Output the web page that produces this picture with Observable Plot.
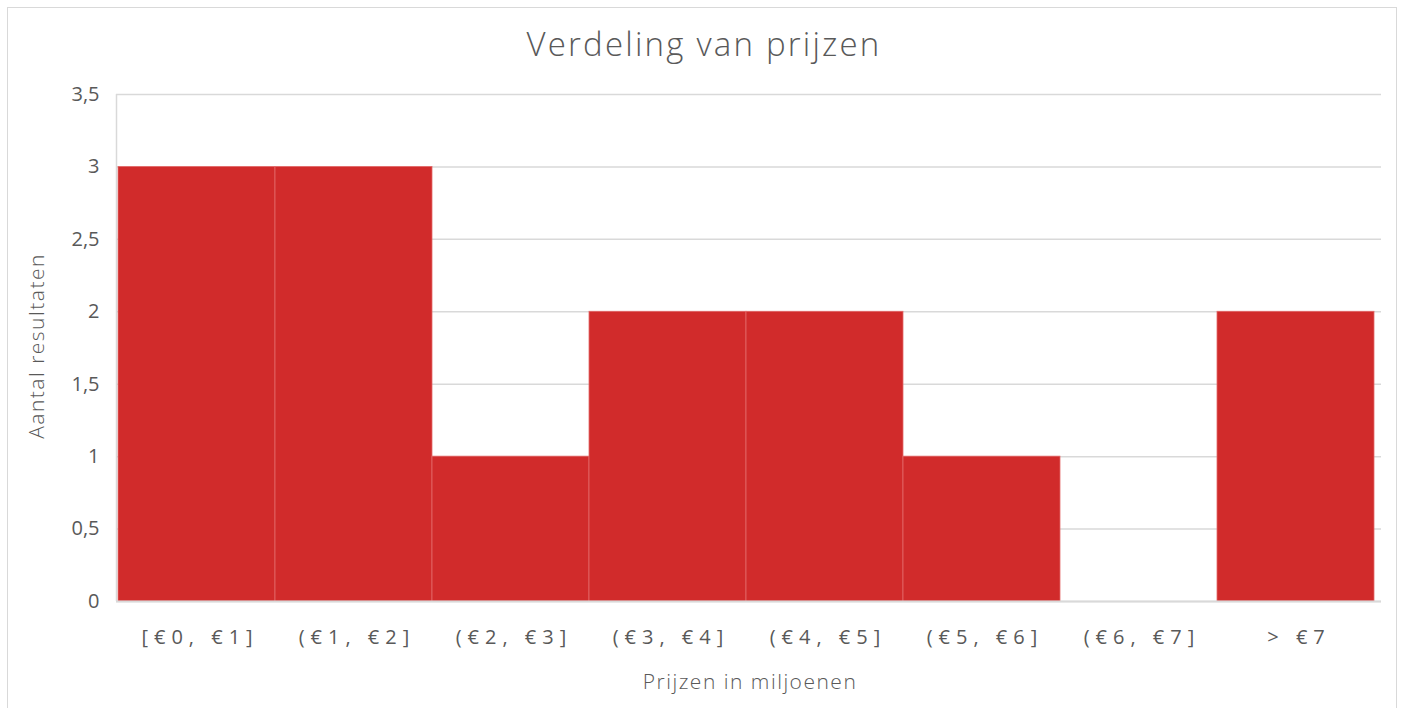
<!DOCTYPE html>
<html>
<head>
<meta charset="utf-8">
<script src="https://cdn.jsdelivr.net/npm/d3@7"></script>
<script src="https://cdn.jsdelivr.net/npm/@observablehq/plot@0.6"></script>
<style>
  html, body { margin: 0; padding: 0; background: #fff; }
  #wrap { position: relative; width: 1402px; height: 708px; overflow: hidden; }
  #border { position: absolute; left: 7px; top: 7px; width: 1390px; height: 720px; border: 1px solid #d9d9d9; box-sizing: border-box; pointer-events: none; }
</style>
</head>
<body>
<div id="wrap"><div id="border"></div></div>
<script>
const bins = ["[€0, €1]", "(€1, €2]", "(€2, €3]", "(€3, €4]", "(€4, €5]", "(€5, €6]", "(€6, €7]", "> €7"];
const counts = [3, 3, 1, 2, 2, 1, 0, 2];
const yTicks = [0, 0.5, 1, 1.5, 2, 2.5, 3, 3.5];
const title = "Verdeling van prijzen";
const xTitle = "Prijzen in miljoenen";
const yTitle = "Aantal resultaten";

const data = bins.map((b, i) => ({bin: b, count: counts[i]}));
const textColor = "#595959";
const gridColor = "#d9d9d9";
const titleFont = "'Open Sans', sans-serif";

const W = 1402, H = 708;
const mL = 116, mR = 21, mT = 94, mB = 107;

const svg = Plot.plot({
  width: W,
  height: H,
  marginLeft: mL,
  marginRight: mR,
  marginTop: mT,
  marginBottom: mB,
  style: {fontFamily: "'Open Sans', sans-serif", fontSize: "20px", color: textColor, background: "transparent"},
  x: {type: "band", domain: bins, padding: 0, insetRight: 5, label: null},
  y: {domain: [0, 3.5], label: null},
  marks: [
    Plot.gridY(yTicks, {stroke: gridColor, strokeOpacity: 1, strokeWidth: 1.5}),
    Plot.barY(data, {x: "bin", y: "count", filter: d => d.count > 0, fill: "#d12b2b", stroke: "#e46a6a", strokeWidth: 0.8}),
    Plot.ruleY([0], {stroke: gridColor, strokeWidth: 2}),
    Plot.axisY({ticks: yTicks, tickSize: 0, tickPadding: 17, tickFormat: d => String(d).replace(".", ","), fill: textColor, fontSize: 20, fontFamily: "'Open Sans', sans-serif"}),
    Plot.axisX({tickSize: 0, tickPadding: 28, dx: 3, fill: textColor, fontSize: 20, fontFamily: "'Open Sans', sans-serif"}),
    Plot.text([title], {frameAnchor: "top", dx: -45, dy: 55 - mT, lineAnchor: "bottom", fontSize: 33, fontFamily: titleFont, fontWeight: 300, fill: textColor}),
    Plot.text([xTitle], {frameAnchor: "bottom", dx: 1, dy: 688 - (H - mB), lineAnchor: "bottom", fontSize: 21, fontFamily: titleFont, fontWeight: 300, fill: textColor}),
    Plot.text([yTitle], {frameAnchor: "left", textAnchor: "middle", dx: 37 - mL, dy: -2, rotate: -90, lineAnchor: "middle", fontSize: 21, fontFamily: titleFont, fontWeight: 300, fill: textColor})
  ]
});

const s = d3.select(svg);
s.selectAll('g[aria-label="x-axis tick label"] text').attr("letter-spacing", "6px");
s.selectAll('g[aria-label="text"] text').each(function() {
  const t = this.textContent;
  if (t === title) this.setAttribute("letter-spacing", "2.2px");
  else this.setAttribute("letter-spacing", "1.5px");
});
s.append("line")
  .attr("x1", mL + 0.5).attr("x2", mL + 0.5)
  .attr("y1", mT).attr("y2", H - mB)
  .attr("stroke", gridColor).attr("stroke-width", 1.5);
svg.style.position = "absolute";
svg.style.left = "0";
svg.style.top = "0";
document.getElementById("wrap").appendChild(svg);
</script>
</body>
</html>
